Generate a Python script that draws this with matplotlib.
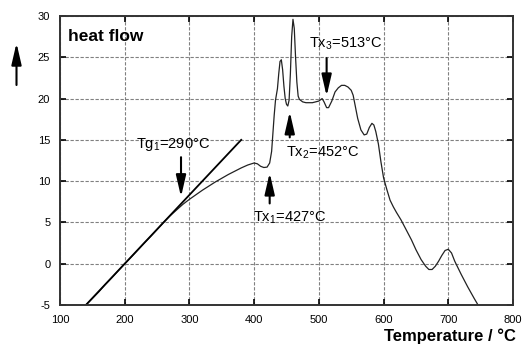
import matplotlib
matplotlib.use("Agg")
from matplotlib import pyplot as plt

plt.rcParams["font.family"] = ["Liberation Sans", "DejaVu Sans"]
plt.rcParams["mathtext.fontset"] = "custom"
plt.rcParams["mathtext.rm"] = "Liberation Sans"
plt.rcParams["mathtext.it"] = "Liberation Sans"
plt.rcParams["axes.unicode_minus"] = False

# DSC trace
temperature = [140, 150, 160, 170, 180, 190, 200, 210, 220, 230, 240, 250, 260, 270,
               280, 290, 300, 310, 320, 330, 340, 350, 360, 370, 380, 390, 400, 405,
               410, 415, 420, 424, 427, 429, 431, 433, 436, 438, 440, 442, 444, 446,
               448, 450, 452, 454, 456, 458, 460, 462, 464, 466, 468, 470, 475, 480,
               490, 500, 505, 508, 512, 515, 520, 525, 530, 535, 540, 545, 550, 553,
               556, 560, 565, 570, 574, 578, 582, 585, 588, 592, 596, 600, 605, 610,
               615, 620, 627, 635, 643, 650, 658, 665, 670, 675, 680, 685, 690, 695,
               700, 705, 710, 720, 730, 740, 746]
heat_flow = [-5.0, -4.2, -3.4, -2.5, -1.7, -0.85, 0.0, 0.8, 1.65, 2.5, 3.3, 4.15, 5.0, 5.8,
             6.5, 7.2, 7.8, 8.35, 8.9, 9.4, 9.9, 10.35, 10.8, 11.2, 11.6, 11.95, 12.2, 12.1,
             11.8, 11.65, 11.7, 12.2, 13.6, 15.8, 18.0, 19.8, 21.2, 23.0, 24.5, 24.7, 23.5, 21.5,
             20.0, 19.3, 19.1, 19.8, 23.0, 27.5, 29.6, 28.5, 25.0, 22.0, 20.3, 19.9, 19.6, 19.5,
             19.5, 19.7, 20.0, 19.6, 18.9, 18.9, 19.7, 20.8, 21.3, 21.6, 21.6, 21.4, 21.0, 20.4,
             19.2, 17.6, 16.2, 15.6, 15.7, 16.5, 17.0, 16.8, 16.0, 14.5, 12.3, 10.4, 9.0, 7.7,
             6.9, 6.2, 5.3, 4.1, 2.9, 1.7, 0.5, -0.3, -0.7, -0.7, -0.3, 0.3, 1.0, 1.6,
             1.75, 1.3, 0.3, -1.3, -2.8, -4.2, -5.0]

# tangent drawn for the glass transition
tangent_t = [140, 380]
tangent_h = [-5.0, 15.0]

x_ticks = [100, 200, 300, 400, 500, 600, 700, 800]
y_ticks = [-5, 0, 5, 10, 15, 20, 25, 30]

fig = plt.figure(figsize=(5.25, 3.47), dpi=100)
ax = fig.add_axes([60 / 525, 42 / 347, 453 / 525, 289 / 347])

ax.plot(temperature, heat_flow, color="#222222", lw=0.9)
ax.plot(tangent_t, tangent_h, color="black", lw=1.3)

ax.set_xlim(100, 800)
ax.set_ylim(-5, 30)
ax.set_xticks(x_ticks)
ax.set_yticks(y_ticks)
ax.tick_params(direction="in", length=4, width=1.2, top=True, right=True,
               labelsize=8, pad=7)
ax.grid(True, color="0.5", lw=0.8, linestyle=(0, (3, 1.5)))
for s in ax.spines.values():
    s.set_linewidth(1.4)
    s.set_color("#333333")

ax.text(113, 26.97, "heat flow", fontsize=12.5, fontweight="bold", va="baseline")

arrow = dict(arrowstyle="-|>,head_width=0.3,head_length=1.3", color="black",
             lw=1.5, mutation_scale=10, shrinkA=0, shrinkB=0)

# Tg1
ax.annotate("", xy=(287, 8.1), xytext=(287, 12.9), arrowprops=arrow)
ax.text(218, 14.0, r"Tg$_1$=290°C", fontsize=10.5, va="baseline")
# Tx1
ax.annotate("", xy=(424, 11.0), xytext=(424, 7.3), arrowprops=arrow)
ax.text(399, 5.06, r"Tx$_1$=427°C", fontsize=10.5, va="baseline")
# Tx2
ax.annotate("", xy=(455, 18.4), xytext=(455, 15.3), arrowprops=arrow)
ax.text(450, 13.0, r"Tx$_2$=452°C", fontsize=10.5, va="baseline")
# Tx3
ax.annotate("", xy=(512, 20.3), xytext=(512, 24.9), arrowprops=arrow)
ax.text(484.5, 26.16, r"Tx$_3$=513°C", fontsize=10.5, va="baseline")

# heat-flow direction arrow outside the axes
ax.annotate("", xy=(16.5, 347 - 43), xytext=(16.5, 347 - 85),
            xycoords="figure pixels", textcoords="figure pixels",
            arrowprops=arrow)

fig.text(516 / 525, 3 / 347, "Temperature / °C", fontsize=12, fontweight="bold",
         ha="right", va="bottom")

fig.savefig("out.png", dpi=100)
